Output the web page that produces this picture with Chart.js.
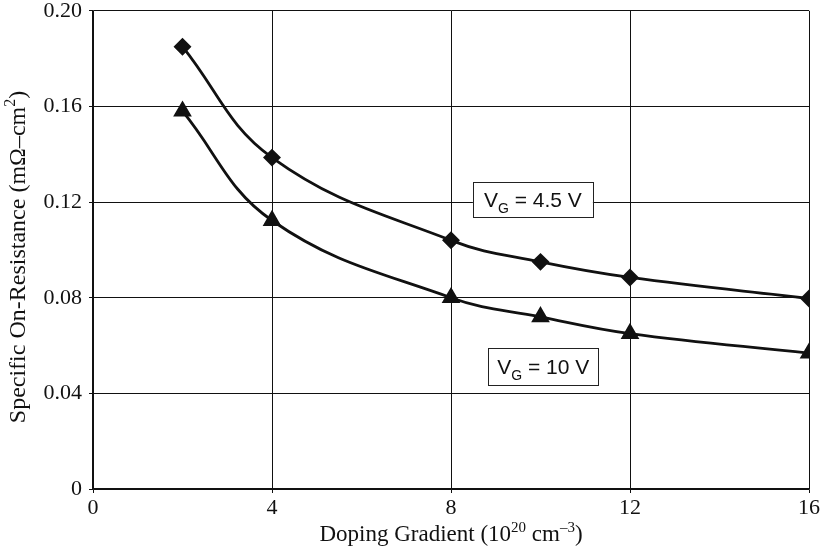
<!DOCTYPE html>
<html>
<head>
<meta charset="utf-8">
<script src="https://cdn.jsdelivr.net/npm/chart.js@4"></script>
<style>
  html, body { margin: 0; padding: 0; background: #fff; }
  canvas { display: block; }
</style>
</head>
<body>
<canvas id="myChart" width="824" height="558"></canvas>
<script>
// doping gradient (10^20 cm^-3)
const GRADIENT = [2, 4, 8, 10, 12, 16];
// specific on-resistance (mOhm-cm^2)
const RON_VG45 = [0.185, 0.1386, 0.104, 0.095, 0.0885, 0.0797];
const RON_VG10 = [0.158, 0.1123, 0.080, 0.072, 0.065, 0.0568];
const X_TICKS = [0, 4, 8, 12, 16];
const Y_TICKS = [0, 0.04, 0.08, 0.12, 0.16, 0.20];

const SERIF = '"Liberation Serif", "Times New Roman", serif';
const SANS = '"Liberation Sans", Arial, sans-serif';

const toPoints = (ys) => GRADIENT.map((x, i) => ({x: x, y: ys[i]}));

/**
 * Draws a run of text pieces, some raised (sup) or lowered (sub), centred on 0,0.
 */
function drawRich(ctx, parts, size, family) {
    const small = Math.round(size * 0.65);
    let total = 0;
    parts.forEach(p => {
        ctx.font = (p.sup || p.sub ? small : size) + 'px ' + family;
        p.w = ctx.measureText(p.t).width;
        total += p.w;
    });
    let x = -total / 2;
    ctx.textBaseline = 'alphabetic';
    ctx.textAlign = 'left';
    parts.forEach(p => {
        ctx.font = (p.sup || p.sub ? small : size) + 'px ' + family;
        let dy = 0;
        if (p.sup) dy = -size * 0.4;
        if (p.sub) dy = size * 0.28;
        ctx.fillText(p.t, x, dy);
        x += p.w;
    });
}

// axis titles with real superscripts, and the boxed "VG = ..." labels
const annotations = {
    id: 'annotations',
    afterDraw(chart) {
        const ctx = chart.ctx;
        const xs = chart.scales.x, ys = chart.scales.y;
        const area = chart.chartArea;

        ctx.save();
        ctx.fillStyle = '#111';
        ctx.translate((area.left + area.right) / 2, 541);
        drawRich(ctx, [
            {t: 'Doping Gradient (10'}, {t: '20', sup: true},
            {t: ' cm'}, {t: '–3', sup: true}, {t: ')'}
        ], 23, SERIF);
        ctx.restore();

        ctx.save();
        ctx.fillStyle = '#111';
        ctx.translate(25, 257);
        ctx.rotate(-Math.PI / 2);
        drawRich(ctx, [
            {t: 'Specific On-Resistance (mΩ–cm'}, {t: '2', sup: true}, {t: ')'}
        ], 24, SERIF);
        ctx.restore();

        const items = [
            {x: 9.83, y: 0.1209, w: 120, h: 35, value: '4.5 V'},
            {x: 10.06, y: 0.0511, w: 110, h: 37, value: '10 V'}
        ];
        items.forEach(it => {
            const cx = xs.getPixelForValue(it.x);
            const cy = ys.getPixelForValue(it.y);
            ctx.save();
            ctx.fillStyle = '#fff';
            ctx.fillRect(cx - it.w / 2, cy - it.h / 2, it.w, it.h);
            ctx.strokeStyle = '#222';
            ctx.lineWidth = 1;
            ctx.strokeRect(Math.round(cx - it.w / 2) + 0.5, Math.round(cy - it.h / 2) + 0.5, it.w, it.h);
            ctx.fillStyle = '#111';
            ctx.translate(cx, cy + 7);
            drawRich(ctx, [{t: 'V'}, {t: 'G', sub: true}, {t: ' = ' + it.value}], 21, SANS);
            ctx.restore();
        });
    }
};

const ctx = document.getElementById('myChart').getContext('2d');
new Chart(ctx, {
    type: 'line',
    data: {
        datasets: [
            {
                label: 'VG = 4.5 V',
                data: toPoints(RON_VG45),
                borderColor: '#111',
                backgroundColor: '#111',
                borderWidth: 2.8,
                pointStyle: 'rectRot',
                pointRadius: 7,
                tension: 0.4
            },
            {
                label: 'VG = 10 V',
                data: toPoints(RON_VG10),
                borderColor: '#111',
                backgroundColor: '#111',
                borderWidth: 2.8,
                pointStyle: 'triangle',
                pointRadius: 8,
                tension: 0.4
            }
        ]
    },
    options: {
        responsive: false,
        animation: false,
        layout: {padding: {left: 0, top: 10, right: 15, bottom: 0}},
        plugins: {legend: {display: false}, tooltip: {enabled: false}},
        scales: {
            x: {
                type: 'linear',
                min: 0, max: 16,
                afterBuildTicks: (s) => { s.ticks = X_TICKS.map(v => ({value: v})); },
                afterFit: (s) => { s.height = 69; },
                grid: {color: '#111', lineWidth: 1, tickLength: 4, drawTicks: true},
                border: {color: '#111', width: 1.5},
                ticks: {
                    color: '#111', padding: 2,
                    font: {family: SERIF, size: 22}
                }
            },
            y: {
                min: 0, max: 0.2,
                afterBuildTicks: (s) => { s.ticks = Y_TICKS.map(v => ({value: v})); },
                afterFit: (s) => { s.width = 93; s.paddingTop = 0; s.paddingBottom = 0; },
                grid: {color: '#111', lineWidth: 1, tickLength: 4, drawTicks: true},
                border: {color: '#111', width: 1.5},
                ticks: {
                    color: '#111', padding: 7,
                    callback: (v) => v === 0 ? '0' : v.toFixed(2),
                    font: {family: SERIF, size: 22}
                }
            }
        }
    },
    plugins: [annotations]
});
</script>
</body>
</html>
